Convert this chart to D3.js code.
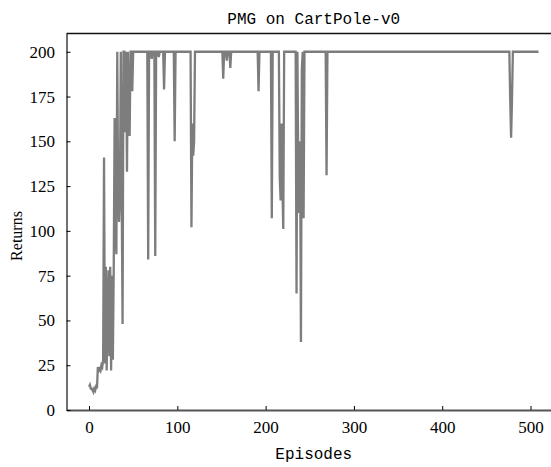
<!DOCTYPE html>
<html>

<head>
  <meta charset="utf8">
  <script src="https://d3js.org/d3.v7.min.js"></script>
  <style>
    body {
      margin: 0;
      background: #fff;
    }

    .axis text {
      fill: #000;
      font-family: "Liberation Serif", serif;
      font-size: 17px;
    }

    .axis line {
      stroke: #000;
    }

    .title,
    .x-label {
      font-family: "Liberation Mono", monospace;
      font-size: 16px;
      fill: #000;
    }

    .y-label {
      font-family: "Liberation Serif", serif;
      font-size: 16px;
      fill: #000;
    }

    .line {
      fill: none;
      stroke: #7d7d7d;
      stroke-width: 2.3;
      stroke-linejoin: miter;
    }
  </style>
</head>

<body>
  <svg id="chart" width="551" height="467"></svg>

  <script>
    var episodes = [
      0, 1, 2, 3, 4, 5, 6, 7, 8, 9, 10, 11, 12, 13, 14, 15, 16, 17, 18, 19,
      20, 21, 22, 23, 24, 25, 26, 27, 28, 29, 30, 31, 32, 33, 34, 35, 36, 37, 38, 39,
      40, 41, 42, 43, 44, 45, 46, 47, 48, 49, 50,
      66, 67, 68, 70, 71, 72, 74, 75, 76, 78, 79, 80, 84, 85, 86, 96, 97, 98,
      115, 116, 117, 118, 119, 120, 151, 152, 153, 155, 156, 157, 159, 160, 161,
      191, 192, 193, 206, 207, 208, 215, 216, 217, 218, 219, 220, 221,
      234, 235, 236, 237, 238, 239, 240, 241, 242, 243, 244, 268, 269, 270,
      476, 477, 478, 479, 480, 509
    ];
    var returns = [
      13, 14, 12, 12, 11, 10, 12, 11, 13, 12, 24, 22, 23, 22, 25, 24, 28, 141, 26, 80,
      22, 60, 78, 30, 80, 22, 75, 28, 80, 163, 100, 87, 200, 120, 105, 118, 200, 122, 48, 200,
      200, 155, 200, 133, 200, 165, 153, 200, 200, 178, 200,
      200, 84, 200, 200, 196, 200, 200, 86, 200, 200, 197, 200, 200, 179, 200, 200, 150, 200,
      200, 102, 160, 142, 150, 200, 200, 185, 200, 200, 195, 200, 200, 191, 200,
      200, 178, 200, 200, 107, 200, 200, 130, 117, 160, 125, 101, 200,
      200, 65, 200, 130, 110, 150, 38, 190, 200, 107, 200, 200, 131, 200,
      200, 173, 152, 173, 200, 200
    ];
    var xTicks = [0, 100, 200, 300, 400, 500];
    var yTicks = [0, 25, 50, 75, 100, 125, 150, 175, 200];

    var data = episodes.map((e, i) => ({ episode: e, value: returns[i] }));

    var chart = d3.select('#chart');
    var margin = { left: 66.5, right: 561, top: 33.5, bottom: 410 };

    var x = d3.scaleLinear()
      .domain([-25.5, 534.5])
      .range([margin.left, margin.right]);

    var y = d3.scaleLinear()
      .domain([0, 210.2])
      .range([margin.bottom, margin.top]);

    chart.append('rect')
      .attr('width', 551)
      .attr('height', 467)
      .attr('fill', '#fff');

    // data line first, spines drawn over it
    chart.append('path')
      .datum(data)
      .attr('class', 'line')
      .attr('d', d3.line()
        .x((d) => x(d.episode))
        .y((d) => y(d.value)));

    var xAxis = chart.append('g')
      .attr('class', 'axis x-axis')
      .attr('transform', 'translate(0, ' + margin.bottom + ')')
      .call(d3.axisBottom(x).tickValues(xTicks).tickSize(-4).tickSizeOuter(0).tickPadding(11));
    xAxis.select('.domain')
      .attr('stroke', '#555')
      .attr('stroke-width', 2);

    var yAxis = chart.append('g')
      .attr('class', 'axis y-axis')
      .attr('transform', 'translate(' + margin.left + ', 0)')
      .call(d3.axisLeft(y).tickValues(yTicks).tickSize(-4).tickSizeOuter(0).tickPadding(11.5));
    yAxis.select('.domain')
      .attr('stroke', '#222')
      .attr('stroke-width', 1.3);

    chart.append('line')
      .attr('x1', margin.left)
      .attr('x2', margin.right)
      .attr('y1', margin.top)
      .attr('y2', margin.top)
      .attr('stroke', '#111')
      .attr('stroke-width', 1.3);

    chart.append('text')
      .attr('class', 'title')
      .attr('x', (margin.left + margin.right) / 2)
      .attr('y', 24)
      .attr('text-anchor', 'middle')
      .text('PMG on CartPole-v0');

    chart.append('text')
      .attr('class', 'x-label')
      .attr('x', (margin.left + margin.right) / 2)
      .attr('y', 459)
      .attr('text-anchor', 'middle')
      .text('Episodes');

    chart.append('text')
      .attr('class', 'y-label')
      .attr('transform', 'translate(22, 236) rotate(-90)')
      .attr('text-anchor', 'middle')
      .text('Returns');
  </script>
</body>

</html>
